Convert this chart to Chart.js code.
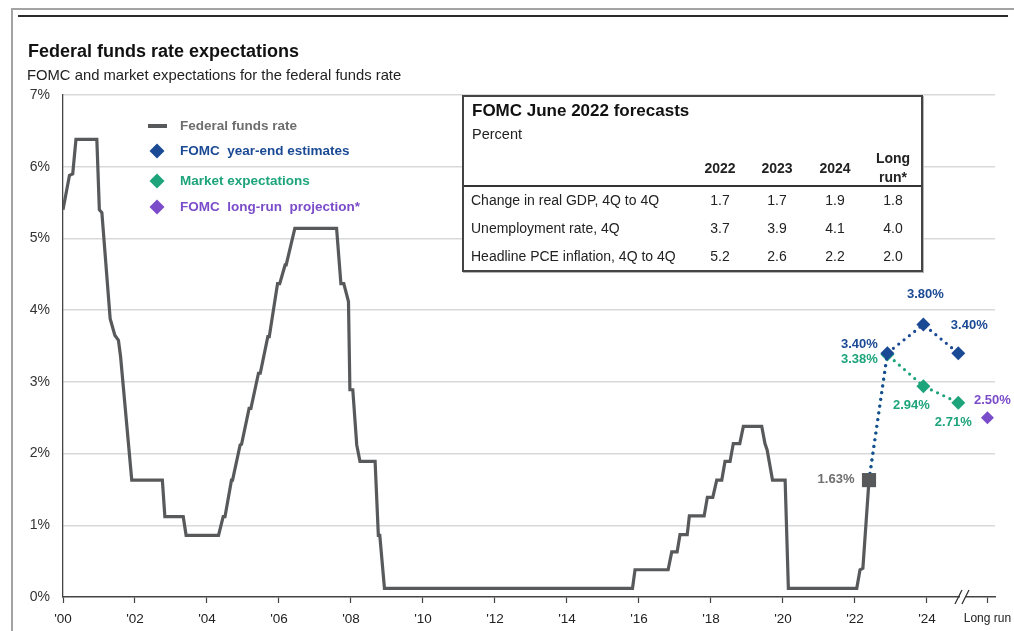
<!DOCTYPE html>
<html>
<head>
<meta charset="utf-8">
<script src="https://cdn.jsdelivr.net/npm/chart.js@4.4.1/dist/chart.umd.min.js"></script>
<style>
  html, body { margin: 0; padding: 0; background: #fff; }
  #wrap { position: relative; width: 1014px; height: 631px; overflow: hidden; font-family: "Liberation Sans", Arial, sans-serif; }
  #wrap canvas { position: absolute; left: 0; top: 0; }
  .rule { position: absolute; }
  #title { position: absolute; left: 28px; top: 40px; font-size: 18px; line-height: 22px; font-weight: bold; color: #111; white-space: nowrap; }
  #subtitle { position: absolute; left: 27px; top: 66px; font-size: 14.8px; line-height: 18px; color: #222; white-space: nowrap; }
  #forecast { position: absolute; left: 462px; top: 95px; width: 457px; height: 173px; border: 2px solid #444; background: #fff; box-shadow: 1px 1px 0 #b5b5b5; color: #222; }
  #forecast div { position: absolute; white-space: nowrap; }
  #forecast .c { transform: translate(-50%, -50%); }
  #forecast .l { transform: translate(0, -50%); }
</style>
</head>
<body>
<div id="wrap">
  <canvas id="ffChart" width="1014" height="631"></canvas>
  <div class="rule" style="left:11px;top:8px;width:1003px;height:1.5px;background:#a3a3a3"></div>
  <div class="rule" style="left:18px;top:15px;width:990px;height:2px;background:#2b2b2b"></div>
  <div class="rule" style="left:11px;top:8px;width:1.5px;height:623px;background:#a3a3a3"></div>
  <div id="title">Federal funds rate expectations</div>
  <div id="subtitle">FOMC and market expectations for the federal funds rate</div>
  <div id="forecast"></div>
</div>
<script>
// Effective federal funds rate (year, percent)
var ffYears = [2000.00, 2000.18, 2000.27, 2000.36, 2000.94, 2001.01, 2001.08, 2001.31, 2001.44, 2001.54,
  2001.60, 2001.91, 2002.76, 2002.83, 2003.34, 2003.42, 2004.32, 2004.45, 2004.50, 2004.68,
  2004.71, 2004.92, 2004.96, 2005.17, 2005.22, 2005.43, 2005.48, 2005.69, 2005.73, 2005.96,
  2006.02, 2006.17, 2006.20, 2006.44, 2007.60, 2007.72, 2007.80, 2007.93, 2007.97, 2008.05,
  2008.16, 2008.25, 2008.67, 2008.76, 2008.80, 2008.93, 2015.82, 2015.89, 2016.81, 2016.91,
  2017.06, 2017.14, 2017.34, 2017.40, 2017.81, 2017.90, 2018.05, 2018.16, 2018.30, 2018.39,
  2018.53, 2018.62, 2018.80, 2018.90, 2019.41, 2019.50, 2019.56, 2019.71, 2020.06, 2020.15,
  2022.05, 2022.14, 2022.22, 2022.39];
var ffRates = [5.40, 5.88, 5.90, 6.38, 6.38, 5.40, 5.36, 3.88, 3.65, 3.58,
  3.35, 1.63, 1.63, 1.12, 1.12, 0.86, 0.86, 1.12, 1.12, 1.63,
  1.63, 2.12, 2.13, 2.63, 2.63, 3.12, 3.12, 3.63, 3.63, 4.37,
  4.37, 4.63, 4.63, 5.14, 5.14, 4.37, 4.37, 4.12, 2.89, 2.89,
  2.12, 1.89, 1.89, 0.86, 0.86, 0.12, 0.12, 0.38, 0.38, 0.63,
  0.63, 0.87, 0.87, 1.13, 1.13, 1.39, 1.39, 1.63, 1.63, 1.89,
  1.89, 2.14, 2.14, 2.38, 2.38, 2.14, 2.05, 1.63, 1.63, 0.12,
  0.12, 0.38, 0.40, 1.63];

// Year-end forecasts (2022, 2023, 2024) and the long-run projection
var forecastYears = [2022.9, 2023.9, 2024.87];
var fomcEstimates = [3.40, 3.80, 3.40];
var marketExpectations = [3.38, 2.94, 2.71];
var longRunYear = 2025.68;
var longRunValue = 2.50;

// Axis ticks
var tickYears = [2000, 2002, 2004, 2006, 2008, 2010, 2012, 2014, 2016, 2018, 2020, 2022, 2024, longRunYear];
var rateTicks = [0, 1, 2, 3, 4, 5, 6, 7];

// FOMC June 2022 summary table
var tableColumns = ['2022', '2023', '2024'];
var gdpGrowth = [1.7, 1.7, 1.9, 1.8];
var unemployment = [3.7, 3.9, 4.1, 4.0];
var pceInflation = [5.2, 2.6, 2.2, 2.0];

var GRAY = '#58595b', BLUE = '#1b4a95', GREEN = '#1ea47b', PURPLE = '#7b4cc9';
var FONT = '"Liberation Sans", Arial, sans-serif';

// forecast table
(function () {
  var box = document.getElementById('forecast');
  function add(cls, x, y, text, css) {
    var d = document.createElement('div');
    d.className = cls;
    d.style.left = x + 'px';
    d.style.top = y + 'px';
    d.style.cssText += css || '';
    d.textContent = text;
    box.appendChild(d);
  }
  add('l', 8, 14, 'FOMC June 2022 forecasts', 'font-size:17px;font-weight:bold;color:#111');
  add('l', 8, 37, 'Percent', 'font-size:14.5px');
  var colX = [256, 313, 371, 429];
  tableColumns.forEach(function (c, i) { add('c', colX[i], 71, c, 'font-size:14px;font-weight:bold'); });
  add('c', colX[3], 61, 'Long', 'font-size:14px;font-weight:bold');
  add('c', colX[3], 80, 'run*', 'font-size:14px;font-weight:bold');
  var rule = document.createElement('div');
  rule.style.cssText = 'left:0;top:88px;width:100%;height:1.5px;background:#333';
  box.appendChild(rule);
  var rows = [
    ['Change in real GDP, 4Q to 4Q', gdpGrowth],
    ['Unemployment rate, 4Q', unemployment],
    ['Headline PCE inflation, 4Q to 4Q', pceInflation]
  ];
  rows.forEach(function (r, k) {
    var y = 103 + k * 28;
    add('l', 7, y, r[0], 'font-size:14px');
    r[1].forEach(function (v, i) { add('c', colX[i], y, v.toFixed(1), 'font-size:14px'); });
  });
})();

function pts(xs, ys) {
  return xs.map(function (x, i) { return { x: x, y: ys[i] }; });
}

var last = ffYears.length - 1;
var current = { x: ffYears[last], y: ffRates[last] };

// label placement around each mark, by dataset
var labelOffsets = {
  current: [[-33, -1]],
  fomc: [null, [-28, -9], [2, -30], [11, -28]],
  market: [null, [-28, 5], [-12, 19], [-5, 20]],
  longRun: [[5, -17]]
};

var valueLabels = {
  id: 'valueLabels',
  afterDatasetsDraw: function (chart) {
    var ctx = chart.ctx;
    ctx.save();
    ctx.font = 'bold 13px ' + FONT;
    ctx.textAlign = 'center';
    ctx.textBaseline = 'middle';
    chart.data.datasets.forEach(function (ds, i) {
      var offs = labelOffsets[ds.labelKey];
      if (!offs) return;
      chart.getDatasetMeta(i).data.forEach(function (el, j) {
        if (!offs[j]) return;
        ctx.fillStyle = ds.labelColor;
        ctx.fillText(ds.data[j].y.toFixed(2) + '%', el.x + offs[j][0], el.y + offs[j][1]);
      });
    });
    ctx.restore();
  }
};

var legendItems = [
  { text: 'Federal funds rate', color: GRAY, textColor: '#6e6e6e', y: 126, dash: true },
  { text: 'FOMC  year-end estimates', color: BLUE, textColor: BLUE, y: 151 },
  { text: 'Market expectations', color: GREEN, textColor: GREEN, y: 181 },
  { text: 'FOMC  long-run  projection*', color: PURPLE, textColor: PURPLE, y: 207 }
];

var insideLegend = {
  id: 'insideLegend',
  afterDraw: function (chart) {
    var ctx = chart.ctx;
    ctx.save();
    ctx.font = 'bold 13.5px ' + FONT;
    ctx.textBaseline = 'middle';
    legendItems.forEach(function (it) {
      ctx.fillStyle = it.color;
      if (it.dash) {
        ctx.fillRect(148, it.y - 2, 19, 4);
      } else {
        ctx.beginPath();
        ctx.moveTo(157, it.y - 7.5);
        ctx.lineTo(164.5, it.y);
        ctx.lineTo(157, it.y + 7.5);
        ctx.lineTo(149.5, it.y);
        ctx.closePath();
        ctx.fill();
      }
      ctx.fillStyle = it.textColor;
      ctx.fillText(it.text, 180, it.y);
    });
    ctx.restore();
  }
};

// "//" break on the time axis before the long-run column
var axisBreak = {
  id: 'axisBreak',
  afterDraw: function (chart) {
    var ctx = chart.ctx;
    var x = chart.scales.x.getPixelForValue(2025.0);
    var y = chart.chartArea.bottom;
    ctx.save();
    ctx.fillStyle = '#fff';
    ctx.fillRect(x - 3, y - 2, 6, 4);
    ctx.strokeStyle = '#333';
    ctx.lineWidth = 1.3;
    ctx.beginPath();
    ctx.moveTo(x - 8, y + 7); ctx.lineTo(x - 1, y - 7);
    ctx.moveTo(x - 1, y + 7); ctx.lineTo(x + 6, y - 7);
    ctx.stroke();
    ctx.restore();
  }
};

new Chart(document.getElementById('ffChart'), {
  type: 'line',
  data: {
    datasets: [
      {
        label: 'Current',
        labelKey: 'current',
        labelColor: '#6e6e6e',
        data: [current],
        showLine: false,
        pointStyle: 'rect',
        pointRadius: 10,
        backgroundColor: GRAY,
        borderColor: GRAY,
        borderWidth: 0
      },
      {
        label: 'FOMC long-run projection*',
        labelKey: 'longRun',
        labelColor: PURPLE,
        data: [{ x: longRunYear, y: longRunValue }],
        showLine: false,
        pointStyle: 'rectRot',
        pointRadius: 6.5,
        backgroundColor: PURPLE,
        borderWidth: 0
      },
      {
        label: 'FOMC year-end estimates',
        labelKey: 'fomc',
        labelColor: BLUE,
        data: [current].concat(pts(forecastYears, fomcEstimates)),
        borderColor: BLUE,
        borderWidth: 3.2,
        borderDash: [0, 6.8],
        borderCapStyle: 'round',
        pointStyle: 'rectRot',
        pointRadius: function (c) { return c.dataIndex === 0 ? 0 : 7; },
        pointBackgroundColor: BLUE,
        pointBorderWidth: 0
      },
      {
        label: 'Market expectations',
        labelKey: 'market',
        labelColor: GREEN,
        data: [current].concat(pts(forecastYears, marketExpectations)),
        borderColor: GREEN,
        borderWidth: 3.2,
        borderDash: [0, 6.8],
        borderCapStyle: 'round',
        pointStyle: 'rectRot',
        pointRadius: function (c) { return c.dataIndex === 0 ? 0 : 7; },
        pointBackgroundColor: GREEN,
        pointBorderWidth: 0
      },
      {
        label: 'Federal funds rate',
        data: pts(ffYears, ffRates),
        borderColor: GRAY,
        borderWidth: 3.2,
        borderJoinStyle: 'miter',
        pointRadius: 0,
        tension: 0
      }
    ]
  },
  options: {
    responsive: false,
    animation: false,
    layout: { padding: { top: 95, right: 19, left: 0, bottom: 0 } },
    plugins: { legend: { display: false }, tooltip: { enabled: false } },
    scales: {
      x: {
        type: 'linear',
        min: 2000,
        max: 2025.89,
        afterBuildTicks: function (s) { s.ticks = tickYears.map(function (v) { return { value: v }; }); },
        afterFit: function (s) {
          s.height = 34;
          // chart area comes from the layout padding alone
          s.paddingLeft = 0;
          s.paddingRight = 0;
        },
        grid: { drawOnChartArea: false, drawTicks: true, tickLength: 6, color: '#444', tickWidth: 1.2 },
        border: { color: '#444', width: 1.5 },
        ticks: {
          autoSkip: false,
          maxRotation: 0,
          padding: 8,
          color: '#222',
          font: function (c) { return { family: FONT, size: c.tick && c.tick.value > 2025 ? 12 : 13.5 }; },
          callback: function (v) { return v > 2025 ? 'Long run' : "'" + String(v).slice(2); }
        }
      },
      y: {
        min: 0,
        max: 7,
        afterBuildTicks: function (s) { s.ticks = rateTicks.map(function (v) { return { value: v }; }); },
        afterFit: function (s) { s.width = 63; },
        grid: {
          drawTicks: false,
          lineWidth: 1.5,
          color: function (c) { return c.tick && c.tick.value === 0 ? 'rgba(0,0,0,0)' : '#d9d9d9'; }
        },
        border: { color: '#444', width: 1.3 },
        ticks: {
          padding: 13,
          color: '#333',
          font: { family: FONT, size: 14 },
          callback: function (v) { return v + '%'; }
        }
      }
    }
  },
  plugins: [valueLabels, insideLegend, axisBreak]
});
</script>
</body>
</html>
